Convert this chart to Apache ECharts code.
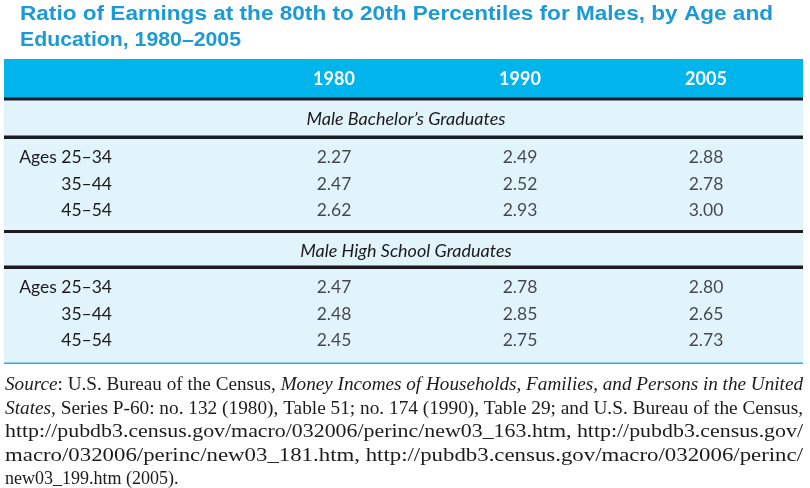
<!DOCTYPE html>
<html>
<head>
<meta charset="utf-8">
<script src="https://cdn.jsdelivr.net/npm/echarts@6/dist/echarts.min.js"></script>
<style>html,body{margin:0;padding:0;background:#fff;}#c{width:810px;height:488px;}</style>
</head>
<body>
<div id="c"></div>
<script>
// ---- data ----
var titleLines = ['Ratio of Earnings at the 80th to 20th Percentiles for Males, by Age and', 'Education, 1980–2005'];
var years = ['1980', '1990', '2005'];
var ageGroups = ['Ages 25–34', '35–44', '45–54'];
var sectionTitles = ['Male Bachelor’s Graduates', 'Male High School Graduates'];
var bachelors1980 = [2.27, 2.47, 2.62];
var bachelors1990 = [2.49, 2.52, 2.93];
var bachelors2005 = [2.88, 2.78, 3.00];
var highSchool1980 = [2.47, 2.48, 2.45];
var highSchool1990 = [2.78, 2.85, 2.75];
var highSchool2005 = [2.80, 2.65, 2.73];
// source note: segments [text, italic]
var sourceLines = [
  [['Source', true], [': U.S. Bureau of the Census, ', false], ['Money Incomes of Households, Families, and Persons in the United', true]],
  [['States', true], [', Series P-60: no. 132 (1980), Table 51; no. 174 (1990), Table 29; and U.S. Bureau of the Census,', false]],
  [['http://pubdb3.census.gov/macro/032006/perinc/new03_163.htm, http://pubdb3.census.gov/', false]],
  [['macro/032006/perinc/new03_181.htm, http://pubdb3.census.gov/macro/032006/perinc/', false]],
  [['new03_199.htm (2005).', false]]
];

// ---- build ----
function cells(c1980, c1990, c2005) {
  var out = [];
  [c1980, c1990, c2005].forEach(function (col, ci) {
    col.forEach(function (v, ri) { out.push([ci, ri, v]); });
  });
  return out;
}

var tableFont = 'Lato, "Open Sans", sans-serif';
var textColor = '#1d1a1b';
var srcFont = '"Liberation Serif", "DejaVu Serif", serif';
var srcSize = 18;
var titleFont = 'bold 21px "Liberation Sans", Arial, sans-serif';

var canvas = document.createElement('canvas');
var ctx = canvas.getContext('2d');
function lineWidth(segs) {
  var w = 0;
  segs.forEach(function (s) {
    ctx.font = (s[1] ? 'italic ' : '') + srcSize + 'px ' + srcFont;
    w += ctx.measureText(s[0]).width;
  });
  return w;
}
function plainWidth(text, font) { ctx.font = font; return ctx.measureText(text).width; }

var dark = '#1c1c22';
var graphics = [
  { type: 'rect', shape: { x: 4, y: 98, width: 799, height: 265 }, style: { fill: '#e1f4fc' }, z: -20 },
  { type: 'rect', shape: { x: 4, y: 59, width: 799, height: 39 }, style: { fill: '#00b4ec' }, z: -20 },
  { type: 'rect', shape: { x: 4, y: 97.5, width: 799, height: 3 }, style: { fill: dark }, z: -10 },
  { type: 'rect', shape: { x: 4, y: 135.5, width: 799, height: 3.5 }, style: { fill: dark }, z: -10 },
  { type: 'rect', shape: { x: 4, y: 230, width: 799, height: 3 }, style: { fill: dark }, z: -10 },
  { type: 'rect', shape: { x: 4, y: 265.5, width: 799, height: 3.5 }, style: { fill: dark }, z: -10 },
  { type: 'rect', shape: { x: 4, y: 362.5, width: 799, height: 1.5 }, style: { fill: '#2aaedf' }, z: -10 },
  { type: 'text', x: 406, y: 119, z: 3, style: { text: sectionTitles[0], font: 'italic 18px ' + tableFont, fill: textColor, textAlign: 'center', textVerticalAlign: 'middle' } },
  { type: 'text', x: 406, y: 251, z: 3, style: { text: sectionTitles[1], font: 'italic 18px ' + tableFont, fill: textColor, textAlign: 'center', textVerticalAlign: 'middle' } }
];

var titleTargets = [753, 221];
titleLines.forEach(function (t, i) {
  var w = plainWidth(t, titleFont);
  graphics.push({ type: 'text', x: 20, y: 14 + i * 26, scaleX: titleTargets[i] / w, z: 3,
    style: { text: t, font: titleFont, fill: '#1b9ad6', textVerticalAlign: 'middle' } });
});

sourceLines.forEach(function (segs, i) {
  var rich = {
    i: { fontStyle: 'italic', fontFamily: srcFont, fontSize: srcSize, fill: textColor },
    n: { fontFamily: srcFont, fontSize: srcSize, fill: textColor }
  };
  var txt = segs.map(function (s) { return '{' + (s[1] ? 'i' : 'n') + '|' + s[0] + '}'; }).join('');
  var w = lineWidth(segs);
  var sx = (i < sourceLines.length - 1) ? 798 / w : 1;
  graphics.push({
    type: 'text', x: 5, y: 385.5 + i * 23.5, scaleX: sx, z: 3,
    style: { text: txt, rich: rich, textVerticalAlign: 'middle', fontFamily: srcFont, fontSize: srcSize, fill: textColor }
  });
});

var grids = [
  { left: 241, right: 11, top: 144, height: 80 },
  { left: 241, right: 11, top: 274, height: 80 }
];

function xAx(idx, showLabels) {
  return {
    type: 'category', gridIndex: idx, data: years, position: 'top', z: 10,
    axisLine: { show: false }, axisTick: { show: false }, splitLine: { show: false },
    axisLabel: showLabels ? { show: true, margin: 65, verticalAlign: 'middle', color: '#ffffff', fontFamily: tableFont, fontWeight: 'bold', fontSize: 18 } : { show: false }
  };
}
function yAx(idx) {
  return {
    type: 'category', gridIndex: idx, data: ageGroups, inverse: true, z: 10,
    axisLine: { show: false }, axisTick: { show: false }, splitLine: { show: false },
    axisLabel: { margin: 129, align: 'right', color: textColor, fontFamily: tableFont, fontSize: 17.5 }
  };
}
function series(idx, data) {
  return {
    type: 'scatter', xAxisIndex: idx, yAxisIndex: idx, data: data, z: 10,
    symbolSize: 0, itemStyle: { color: 'rgba(0,0,0,0)' }, silent: true,
    label: { show: true, position: 'inside', color: textColor, fontFamily: tableFont, fontSize: 17.5,
      formatter: function (p) { return p.value[2].toFixed(2); } }
  };
}

var chart = echarts.init(document.getElementById('c'), null, { renderer: 'canvas' });
chart.setOption({
  animation: false,
  backgroundColor: '#ffffff',
  grid: grids,
  xAxis: [xAx(0, true), xAx(1, false)],
  yAxis: [yAx(0), yAx(1)],
  series: [
    series(0, cells(bachelors1980, bachelors1990, bachelors2005)),
    series(1, cells(highSchool1980, highSchool1990, highSchool2005))
  ],
  graphic: graphics
});
</script>
</body>
</html>
